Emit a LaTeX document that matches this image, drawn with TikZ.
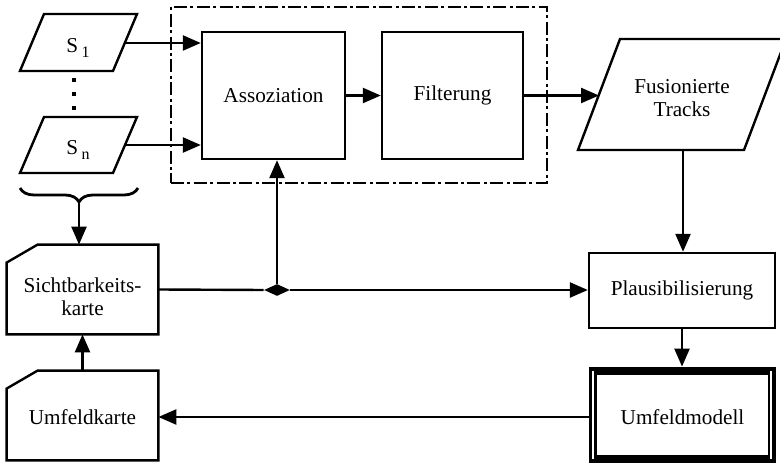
\documentclass[tikz,border=0pt]{standalone}
\usepackage{fontspec}
\setmainfont{Liberation Serif}
\usetikzlibrary{arrows.meta,shapes.geometric,decorations.pathreplacing}
\newcommand\mysub[1]{\,\raisebox{-0.45ex}{\fontsize{8}{9}\selectfont #1}}
\begin{document}
\begin{tikzpicture}[x=0.5pt,y=-0.5pt,
  font=\fontsize{10.6}{11.5}\selectfont,
  every node/.style={inner sep=0pt},
  box/.style={draw, line width=1.2pt, fill=white, align=center},
  conn/.style={line width=1.2pt},
  arr/.style={line width=1.2pt, -{Triangle[length=9pt,width=7.5pt]}},
  shp/.style={draw, line width=1.2pt, line join=miter},
  dotsq/.style={fill=black, minimum size=2.2pt},
]
\useasboundingbox (0,0) rectangle (780,464);

% group frame
\node[draw, line width=1.3pt, dash pattern=on 6.5pt off 1.7pt on 1.5pt off 1.7pt,
      minimum width=188pt, minimum height=88pt] (grp) at (359,95) {};

% sensors
\draw[shp] (44,14) -- (137,14) -- (113,71) -- (20,71) -- cycle;
\node (s1) at (78,48) {S\mysub{1}};
\draw[shp] (44,117) -- (137,117) -- (113,173) -- (20,173) -- cycle;
\node (sn) at (78,150) {S\mysub{n}};
\coordinate (s1e) at (125,43);
\coordinate (sne) at (125,145);
\node[dotsq] (d1) at (74,80) {};
\node[dotsq] (d2) at (74,94) {};
\node[dotsq] (d3) at (74,108) {};

% brace
\draw[line width=1.4pt, decorate, decoration={brace, mirror, amplitude=7pt}] (20,188) -- (138,188);
\coordinate (brtip) at (79,202);

% processing boxes
\node[box, minimum width=71.5pt, minimum height=63.5pt] (assoz) at (273.5,95.5) {Assoziation};
\node[box, minimum width=70.5pt, minimum height=63.5pt] (filt) at (452.5,95.5) {Filterung};

% fused tracks
\draw[shp] (578,150) -- (620,39) -- (786,39) -- (744,150) -- cycle;
\node[align=center] (fus) at (682,98) {Fusionierte\\Tracks};
\coordinate (fusw) at (599,95.5);
\coordinate (fuss) at (683,150);

% maps
\node[minimum width=75.5pt, minimum height=44.5pt, align=center] (sicht) at (82.5,289.5) {};
\draw[shp] ([yshift=-9pt]sicht.north west) -- ([xshift=15.5pt]sicht.north west) -- (sicht.north east) -- (sicht.south east) -- (sicht.south west) -- cycle;
\node[align=center] (sichtt) at (82.5,297) {Sichtbarkeits-\\karte};
\node[minimum width=75.5pt, minimum height=44.5pt] (umk) at (82.5,415.5) {};
\draw[shp] ([yshift=-9pt]umk.north west) -- ([xshift=15.5pt]umk.north west) -- (umk.north east) -- (umk.south east) -- (umk.south west) -- cycle;
\node (umkt) at (82.5,417) {Umfeldkarte};

% plausibility and model
\node[box, minimum width=93pt, minimum height=37.5pt] (plaus) at (682,290.5) {Plausibilisierung};
\node[fill=black, minimum width=93.5pt, minimum height=48pt] (umod) at (682.5,415) {};
\fill[white] ([shift={(8,8)}]umod.north west) rectangle ([shift={(-8,-8)}]umod.south east);
\draw[white, line width=0.7pt] ([shift={(4.5,4)}]umod.north west) -- ([shift={(4.5,-4)}]umod.south west);
\draw[white, line width=0.7pt] ([shift={(-5.5,4)}]umod.north east) -- ([shift={(-5.5,-4)}]umod.south east);
\node (umodt) at (682.5,417) {Umfeldmodell};

% junction
\node[diamond, fill=black, minimum width=13pt, minimum height=6pt] (junc) at (277,290) {};

% connectors
\draw[arr] (s1e) -- (assoz.west |- s1e);
\draw[arr] (sne) -- (assoz.west |- sne);
\draw[arr] (assoz.east) -- (filt.west);
\draw[arr] (filt.east) -- (fusw);
\draw[arr] (fuss) -- (fuss |- plaus.north);
\draw[arr] (plaus.south) -- (plaus.south |- umod.north);
\draw[arr] (umod.west |- umkt) -- (umk.east |- umkt);
\draw[arr] (umk.north) -- (sicht.south);
\draw[arr] (brtip) -- (brtip |- sicht.north);
\draw[conn] (sicht.east) -- (junc.west);
\draw[arr] (junc.east) -- (plaus.west |- junc);
\draw[arr] (junc.north) -- (junc |- assoz.south);
\end{tikzpicture}
\end{document}
